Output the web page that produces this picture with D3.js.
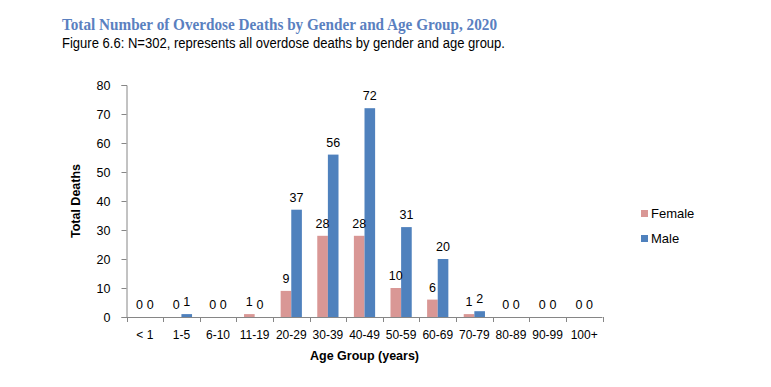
<!DOCTYPE html>
<html><head><meta charset="utf-8">
<script src="https://cdn.jsdelivr.net/npm/d3@7"></script>
<style>body{margin:0;background:#fff}svg{display:block}</style>
</head><body>
<svg id="c" width="771" height="387"></svg>
<script>
const categories = ["< 1","1-5","6-10","11-19","20-29","30-39","40-49","50-59","60-69","70-79","80-89","90-99","100+"];
const female = [0,0,0,1,9,28,28,10,6,1,0,0,0];
const male = [0,1,0,0,37,56,72,31,20,2,0,0,0];
const seriesNames = ["Female","Male"];
const yTicks = [0,10,20,30,40,50,60,70,80];
const colors = {Female:"#D99795", Male:"#4F81BD"};

const svg = d3.select("#c");
const font = "'Liberation Sans', Arial, sans-serif";
const pLeft = 126.5, pRight = 602.5, pTop = 85, pBottom = 317;

const x = d3.scaleBand().domain(categories).range([pLeft, pRight]).padding(0);
const x1 = d3.scaleBand().domain(seriesNames).range([x.bandwidth()*0.21, x.bandwidth()*0.79]).padding(0);
const y = d3.scaleLinear().domain([0,80]).range([pBottom, pTop]);

// Title
svg.append("text").attr("x",62).attr("y",30)
  .attr("font-family","'Liberation Serif', 'DejaVu Serif', serif").attr("font-weight","bold")
  .attr("font-size",16).attr("fill","#5A80C0").attr("textLength",435).attr("lengthAdjust","spacingAndGlyphs")
  .text("Total Number of Overdose Deaths by Gender and Age Group, 2020");
svg.append("text").attr("x",62).attr("y",48)
  .attr("font-family","'Liberation Sans Narrow', 'Liberation Sans', Arial, sans-serif").attr("font-size",14).attr("fill","#000").attr("textLength",443).attr("lengthAdjust","spacingAndGlyphs")
  .text("Figure 6.6: N=302, represents all overdose deaths by gender and age group.");

// Y axis
const yAxis = svg.append("g").attr("transform",`translate(${pLeft},0)`)
  .call(d3.axisLeft(y).tickValues(yTicks).tickSize(5).tickPadding(11));
yAxis.select(".domain").attr("stroke","#868686");
yAxis.selectAll(".tick line").attr("stroke","#868686");
yAxis.selectAll(".tick text").attr("font-family",font).attr("font-size",12.5).attr("fill","#000");

// X axis
const xg = svg.append("g");
xg.append("line").attr("x1",pLeft).attr("x2",pRight).attr("y1",pBottom+0.5).attr("y2",pBottom+0.5).attr("stroke","#868686");
const bounds = categories.map(c=>x(c)).concat([pRight]);
xg.selectAll("line.t").data(bounds).join("line").attr("class","t")
  .attr("x1",d=>Math.round(d)+0.5).attr("x2",d=>Math.round(d)+0.5).attr("y1",pBottom).attr("y2",pBottom+5).attr("stroke","#868686");
xg.selectAll("text").data(categories).join("text")
  .attr("x",d=>x(d)+x.bandwidth()/2).attr("y",pBottom+22).attr("text-anchor","middle")
  .attr("font-family",font).attr("font-size",12).attr("fill","#000").text(d=>d);

// Axis titles
svg.append("text").attr("x",(pLeft+pRight)/2).attr("y",360).attr("text-anchor","middle")
  .attr("font-family",font).attr("font-weight","bold").attr("font-size",12.5).text("Age Group (years)");
svg.append("text").attr("transform",`translate(80,${(pTop+pBottom)/2}) rotate(-90)`).attr("text-anchor","middle")
  .attr("font-family",font).attr("font-weight","bold").attr("font-size",12.5).text("Total Deaths");

// Bars
const data = categories.map((c,i)=>({c, vals:[{s:"Female",v:female[i]},{s:"Male",v:male[i]}]}));
const groups = svg.append("g").selectAll("g").data(data).join("g")
  .attr("transform",d=>`translate(${x(d.c)},0)`);
groups.selectAll("rect").data(d=>d.vals).join("rect")
  .attr("x",d=>x1(d.s)).attr("width",x1.bandwidth())
  .attr("y",d=>y(d.v)).attr("height",d=>pBottom-y(d.v)).attr("fill",d=>colors[d.s]);
groups.selectAll("text").data(d=>d.vals).join("text")
  .attr("x",d=>x1(d.s)+x1.bandwidth()/2).attr("y",d=>y(d.v)-8).attr("text-anchor","middle")
  .attr("font-family",font).attr("font-size",12.5).attr("fill","#000").text(d=>d.v);

// Legend
const lg = svg.append("g");
seriesNames.forEach((s,i)=>{
  const yy = 210 + i*25;
  lg.append("rect").attr("x",641).attr("y",yy).attr("width",7).attr("height",7).attr("fill",colors[s]);
  lg.append("text").attr("x",651).attr("y",yy+7.5).attr("font-family",font).attr("font-size",13).text(s);
});
</script>
</body></html>
